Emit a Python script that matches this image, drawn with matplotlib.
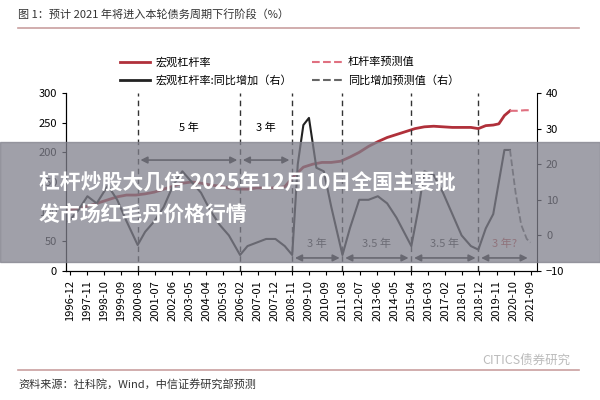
import matplotlib
matplotlib.use("Agg")
import matplotlib.pyplot as plt
from matplotlib.patches import Rectangle

plt.rcParams['font.family'] = ['Noto Sans CJK SC', 'DejaVu Sans']

lev_t = [1996.9,1997.5,1998,1998.5,1999,1999.5,2000,2000.5,2001,2001.5,2002,2002.5,2003,2003.5,2004,2004.5,2005,2005.5,2006,2006.5,2007,2007.5,2008,2008.5,2009,2009.5,2010,2010.5,2011,2011.5,2012,2012.5,2013,2013.5,2014,2014.5,2015,2015.5,2016,2016.5,2017,2017.5,2018,2018.5,2018.9,2019.3,2019.7,2020,2020.3,2020.6]
lev_v = [103,106,110,115,120,125,128,128,130,133,138,143,148,150,148,145,143,140,138,138,140,140,140,142,160,175,180,183,183,185,192,200,210,218,225,230,235,240,243,244,243,242,242,242,240,245,246,248,262,270]
levf_t = [2020.6,2021.0,2021.4,2021.7]
levf_v = [270,270,271,271]

yoy_t = [1996.9,1997.4,1997.9,1998.4,1999.0,1999.5,2000.0,2000.6,2001.0,2001.5,2002.0,2002.5,2003.0,2003.5,2004.0,2004.5,2005.0,2005.5,2006.1,2006.5,2007.0,2007.5,2008.0,2008.5,2008.9,2009.2,2009.5,2009.8,2010.2,2010.6,2011.0,2011.6,2012.0,2012.5,2013.0,2013.5,2014.0,2014.5,2015.0,2015.3,2015.7,2016.0,2016.5,2017.0,2017.5,2018.0,2018.5,2018.9,2019.3,2019.7,2020.0,2020.3,2020.6]
yoy_v = [4,7,11,9,14,10,4,-2.7,1,4,8,14,18,15,12,7,3,0,-5.5,-3,-2,-1,-1,-3,-5.5,20,31,33,19,18,8,-5.5,2,10,10,11,9,5,0,-3,8,18,17,12,6,0,-3,-4,2,6,15,24,24]
yoyf_t = [2020.6,2020.9,2021.2,2021.5,2021.7]
yoyf_v = [24,12,3,-1,-2]

tick_lab = ['1996-12','1997-11','1998-10','1999-09','2000-08','2001-07','2002-06','2003-05','2004-04','2005-03','2006-02','2007-01','2007-12','2008-11','2009-10','2010-09','2011-08','2012-07','2013-06','2014-05','2015-04','2016-03','2017-02','2018-01','2018-12','2019-11','2020-10','2021-09']
tick_pos = [int(s[:4]) + (int(s[5:])-0.5)/12 for s in tick_lab]
vlines = [2000.6,2006.1,2008.9,2011.6,2015.3,2018.9]
upper = [(2000.6,2006.1,'5 年'),(2006.1,2008.9,'3 年')]
lower = [(2008.9,2011.6,'3 年','#333333'),(2011.6,2015.3,'3.5 年','#333333'),(2015.3,2018.9,'3.5 年','#333333'),(2018.9,2021.7,'3 年?','#c0504d')]

fig = plt.figure(figsize=(6,4), dpi=100)
ax = fig.add_axes([0.11,0.3225,0.785,0.445])
ax2 = ax.twinx()
red = '#b0303a'
ax.plot(lev_t, lev_v, color=red, lw=2)
ax.plot(levf_t, levf_v, color='#e07080', lw=1.5, ls='--')
ax2.plot(yoy_t, yoy_v, color='#222222', lw=1.5)
ax2.plot(yoyf_t, yoyf_v, color='#666666', lw=1.3, ls='--')
ax.set_ylim(0,300); ax.set_yticks(range(0,301,50))
ax2.set_ylim(-10,40); ax2.set_yticks(range(-10,41,10))
ax.set_xlim(1996.75,2022.05)
ax.set_xticks(tick_pos); ax.set_xticklabels(tick_lab, rotation=90, fontsize=8)
for a in (ax, ax2):
    a.spines['top'].set_visible(False)
    a.tick_params(labelsize=8, length=3)
ax.spines['right'].set_visible(False)
for v in vlines:
    ax.axvline(v, color='#333', ls=(0,(4,3)), lw=1)
for a,b,t in upper:
    ax.annotate('', xy=(a,187), xytext=(b,187), arrowprops=dict(arrowstyle='<|-|>', color='#222', lw=1.2))
    ax.text((a+b)/2, 236, t, ha='center', fontsize=8)
for a,b,t,c in lower:
    ax.annotate('', xy=(a,22), xytext=(b,22), arrowprops=dict(arrowstyle='<|-|>', color='#222', lw=1.2))
    ax.text((a+b)/2, 40, t, ha='center', fontsize=8, color=c)

fig.text(0.03,0.955,'图 1：预计 2021 年将进入本轮债务周期下行阶段（%）', fontsize=8, color='#333')
fig.add_artist(plt.Line2D([0.03,0.965],[0.93,0.93], color='#c9a0a0', lw=1.2))
fig.add_artist(plt.Line2D([0.03,0.965],[0.075,0.075], color='#c9a0a0', lw=1.2))
fig.text(0.03,0.03,'资料来源：社科院，Wind，中信证券研究部预测', fontsize=8, color='#333')
fig.text(0.95,0.09,'CITICS债券研究', fontsize=9, color='#bbbbbb', ha='right')

fig.add_artist(plt.Line2D([0.2,0.25],[0.845,0.845], color=red, lw=2))
fig.text(0.26,0.845,'宏观杠杆率', fontsize=8, va='center')
fig.add_artist(plt.Line2D([0.2,0.25],[0.8,0.8], color='#222', lw=2))
fig.text(0.26,0.8,'宏观杠杆率:同比增加（右）', fontsize=8, va='center')
fig.add_artist(plt.Line2D([0.52,0.57],[0.845,0.845], color='#e07080', lw=1.5, ls='--'))
fig.text(0.58,0.845,'杠杆率预测值', fontsize=8, va='center')
fig.add_artist(plt.Line2D([0.52,0.57],[0.8,0.8], color='#666', lw=1.5, ls='--'))
fig.text(0.58,0.8,'同比增加预测值（右）', fontsize=8, va='center')

fig.add_artist(Rectangle((0,0.345),1,0.3,transform=fig.transFigure,color='#80808c',alpha=0.75,zorder=10))
fig.text(0.065,0.5425,'杠杆炒股大几倍 2025年12月10日全国主要批',fontsize=15,color='white',weight='bold',va='center',zorder=11)
fig.text(0.065,0.465,'发市场红毛丹价格行情',fontsize=15,color='white',weight='bold',va='center',zorder=11)
fig.savefig('out.png', dpi=100)
